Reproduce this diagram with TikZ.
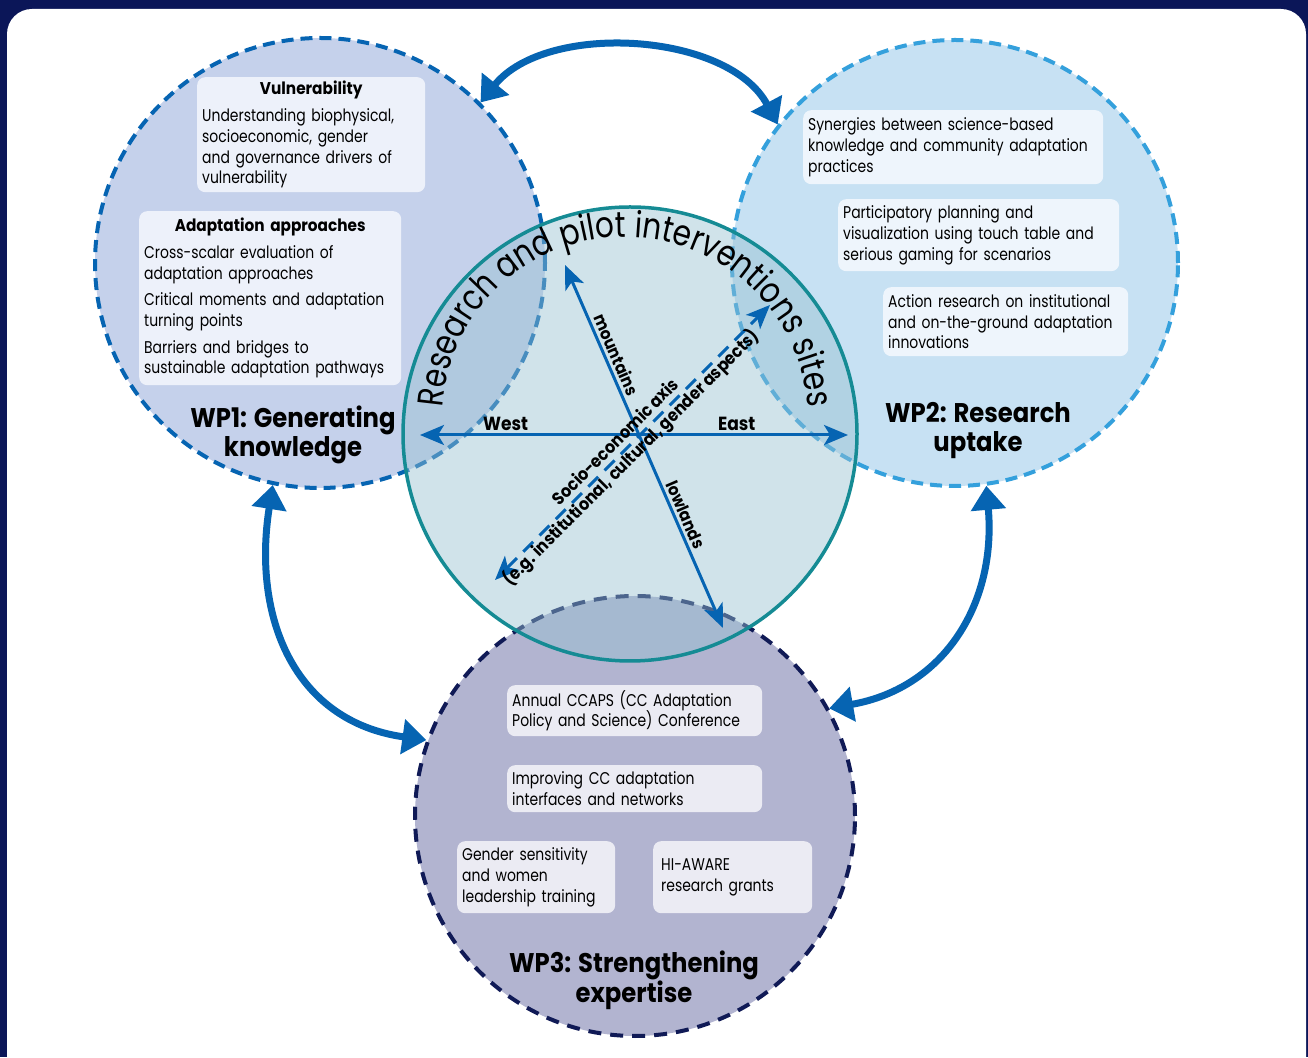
\documentclass[tikz,border=0pt]{standalone}
\usepackage{fontspec}
\setmainfont{Poppins}[FakeStretch=0.82, BoldFeatures={FakeStretch=0.9}]
\usetikzlibrary{arrows.meta}
\usetikzlibrary{decorations.text}
\definecolor{navy1}{RGB}{11, 22, 88}
\definecolor{navy2}{RGB}{16, 26, 86}
\definecolor{blue1}{RGB}{6, 100, 178}
\definecolor{blue2}{RGB}{52, 160, 220}
\definecolor{teal1}{RGB}{21, 139, 148}
\definecolor{wpa}{RGB}{197, 209, 235}
\definecolor{wpb}{RGB}{199, 225, 243}
\definecolor{wpc}{RGB}{178, 180, 208}
\definecolor{site1}{RGB}{151, 193, 209}
\definecolor{boxa}{RGB}{237, 241, 250}
\definecolor{boxb}{RGB}{238, 245, 252}
\definecolor{boxc}{RGB}{235, 235, 243}

\begin{document}
\begin{tikzpicture}[x=1pt, y=1pt,
  txt/.style={font=\fontsize{17}{20.7}\selectfont, align=left, rounded corners=8pt, inner xsep=5pt, anchor=north west,
    execute at begin node={\hyphenpenalty=10000\relax}},
  wptitle/.style={font=\bfseries\fontsize{27}{29}\selectfont, align=center},
  axlbl/.style={font=\bfseries\fontsize{17}{21}\selectfont},
  bigarrow/.style={draw=blue1, line width=7pt, {Triangle[length=24pt,width=34pt]}-{Triangle[length=24pt,width=34pt]}},
  axis/.style={draw=blue1, line width=3pt, {Stealth[length=24pt,width=20pt,inset=6pt]}-{Stealth[length=24pt,width=20pt,inset=6pt]}}]
  \useasboundingbox (0,0) rectangle (1308,1057);
  \fill[navy1] (0,0) rectangle (1308,1057);
  \fill[white, rounded corners=25pt] (7,-40) rectangle (1306,1048);

  % work packages
  \node[circle, minimum size=450pt, fill=wpa, draw=blue1, line width=4pt, dash pattern=on 12pt off 7pt] (wp1) at (320,794) {};
  \node[circle, minimum size=446pt, fill=wpb, draw=blue2, line width=4pt, dash pattern=on 12pt off 7pt] (wp2) at (955,794) {};
  \node[circle, minimum size=440pt, fill=wpc, draw=navy2, line width=4pt, dash pattern=on 13pt off 9pt] (wp3) at (635,241) {};
  \node[circle, minimum size=454pt, fill=site1, fill opacity=0.45, draw=teal1, line width=3.5pt] (sites) at (630,623) {};

  \node[txt, fill=boxa, text width=218pt, minimum height=115pt] (vuln) at (197,980)
    {{\centering\bfseries Vulnerability\par}\vspace{6pt}Understanding biophysical,\\socioeconomic, gender\\and governance drivers of\\vulnerability};
  \node[txt, fill=boxa, text width=252pt, minimum height=174pt] (adapt) at (139,846)
    {{\centering\bfseries Adaptation approaches\par}\vspace{6pt}Cross-scalar evaluation of\\adaptation approaches\\[6pt]Critical moments and adaptation\\turning points\\[6pt]Barriers and bridges to\\sustainable adaptation pathways};

  \node[txt, fill=boxb, text width=290pt, minimum height=74pt] (syn) at (803,947)
    {Synergies between science-based\\knowledge and community adaptation\\practices};
  \node[txt, fill=boxb, text width=271pt, minimum height=72pt] (part) at (838,858)
    {Participatory planning and\\visualization using touch table and\\serious gaming for scenarios};
  \node[txt, fill=boxb, text width=235pt, minimum height=69pt] (act) at (883,770)
    {Action research on institutional\\and on-the-ground adaptation\\innovations};

  \node[txt, fill=boxc, text width=245pt, minimum height=51pt] (ccaps) at (507,372)
    {Annual CCAPS (CC Adaptation\\Policy and Science) Conference};
  \node[txt, fill=boxc, text width=245pt, minimum height=47pt] (netw) at (507,292)
    {Improving CC adaptation\\interfaces and networks};
  \node[txt, fill=boxc, text width=148pt, minimum height=72pt] (gender) at (457,216)
    {Gender sensitivity\\and women\\leadership training};
  \node[txt, fill=boxc, text width=143pt, minimum height=72pt, inner xsep=8pt] (grants) at (653,216)
    {HI-AWARE\\research grants};

  \node[wptitle] (wp1lbl) at (293,622) {WP1: Generating\\knowledge};
  \node[wptitle] (wp2lbl) at (978,626) {WP2: Research\\uptake};
  \node[wptitle] (wp3lbl) at (634,77) {WP3: Strengthening\\expertise};

  % axes in the centre
  \coordinate (west) at (420,622);
  \coordinate (east) at (848,622);
  \coordinate (mtn) at (565,792);
  \coordinate (low) at (723,429);
  \coordinate (soca) at (495,477);
  \coordinate (socb) at (770,752);
  \draw[axis] (west) -- node[pos=0.2, above, axlbl, font=\bfseries\fontsize{19}{21}\selectfont] (westlbl) {West}
    node[pos=0.74, above, axlbl, font=\bfseries\fontsize{19}{21}\selectfont] (eastlbl) {East} (east);
  \draw[axis] (mtn) -- node[pos=0.26, sloped, above, axlbl] (mtnlbl) {mountains} node[pos=0.7, sloped, above, axlbl] (lowlbl) {lowlands} (low);
  \draw[axis, dash pattern=on 14pt off 9pt] (soca) -- node[pos=0.47, sloped, align=center, axlbl, font=\bfseries\fontsize{17.5}{22}\selectfont] (soclbl)
    {Socio-economic axis\\(e.g. institutional, cultural, gender aspects)} (socb);

  \path[decorate, decoration={text along path, text align=center,
    text={|\fontsize{36}{36}\selectfont|Research and pilot interventions sites}}]
    (442.25,646.6) arc[start angle=177, end angle=3, radius=183];

  \foreach \from/\to/\o/\i/\l in {wp1.45/wp2.142/51/118/0.9, wp1.258/wp3.160/261/172/1.15, wp2.278/wp3.29/275/10/1.1}
   \draw[bigarrow] (\from) to[out=\o, in=\i, looseness=\l] (\to);
\end{tikzpicture}
\end{document}
